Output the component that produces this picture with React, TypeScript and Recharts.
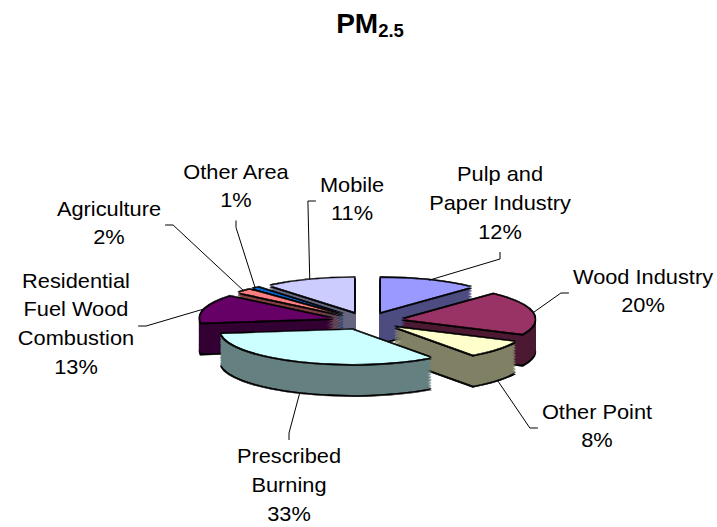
import React from 'react';
import { PieChart, Pie, Cell } from 'recharts';

const categories = [
  'Pulp and Paper Industry',
  'Wood Industry',
  'Other Point',
  'Prescribed Burning',
  'Residential Fuel Wood Combustion',
  'Agriculture',
  'Other Area',
  'Mobile',
];
const shares = [12, 20, 8, 33, 13, 2, 1, 11];
const labelLines = [
  ['Pulp and', 'Paper Industry'],
  ['Wood Industry'],
  ['Other Point'],
  ['Prescribed', 'Burning'],
  ['Residential', 'Fuel Wood', 'Combustion'],
  ['Agriculture'],
  ['Other Area'],
  ['Mobile'],
];

// excel 2003 palette, sides at half brightness
const topColors = ['#9999FF', '#993366', '#FFFFCC', '#CCFFFF', '#660066', '#FF8080', '#0066CC', '#CCCCFF'];
const sideColors = ['#4D4D80', '#4D1A33', '#808066', '#668080', '#330033', '#804040', '#003366', '#666680'];

// where excel left the label blocks, offset from pie centre (screen px)
const labelSpots = [
  [133, -116], [276, -28], [230, 107], [-78, 166],
  [-291, 5], [-258, -96], [-131, -133], [-15, -120],
];

const W = 717;
const H = 527;
const TILT = 0.26; // vertical squash of the pie
const CX = 367;
const CY_S = 321;
const CY = CY_S / TILT;
const R = 133;
const EXPLODE = 36;
const DEPTH_S = 31;
const DEPTH = DEPTH_S / TILT;
const LAYERS = 20;
const FONT = '"Liberation Sans", Arial, sans-serif';
const FS = 20;
const LH = 29;
const SX = 1.09;

const data = categories.map((name, i) => ({ name, value: shares[i] }));
const total = shares.reduce((a, b) => a + b, 0);

// mid angle clockwise from 12 o'clock -> explode direction and back-to-front order
const dirs = shares.map((v, i) => {
  const before = shares.slice(0, i).reduce((a, b) => a + b, 0);
  const m = ((before + v / 2) / total) * 2 * Math.PI;
  return [Math.sin(m), -Math.cos(m)];
});
const order = shares.map((_, i) => i).sort((a, b) => dirs[a][1] - dirs[b][1]);

let ctx: CanvasRenderingContext2D | null = null;
const textWidth = (s: string) => {
  if (!ctx) ctx = document.createElement('canvas').getContext('2d');
  if (!ctx) return s.length * FS * 0.5 * SX;
  ctx.font = `${FS}px "Liberation Sans"`;
  return ctx.measureText(s).width * SX;
};

// label pie sits unsquashed on an overlay; y offsets get the tilt applied here
const renderLabel = (props: any) => {
  const { index, midAngle } = props;
  const a = (-midAngle * Math.PI) / 180;
  const dx = Math.cos(a);
  const dy = Math.sin(a);
  const sx = CX + (EXPLODE + R) * dx;
  let sy = CY_S + (EXPLODE + R) * dy * TILT;
  if (dy > 0.5) sy += DEPTH_S;

  const lines = [...labelLines[index], `${Math.round((shares[index] / total) * 100)}%`];
  const [ox, oy] = labelSpots[index];
  const tx = CX + ox;
  const ty = CY_S + oy;
  const half = Math.max(...lines.map(textWidth)) / 2;
  const firstBase = ty + 5 - ((lines.length - 1) * LH) / 2;
  const lastBase = firstBase + (lines.length - 1) * LH;

  let end: number[];
  let tick: number[];
  if (sx >= tx - half - 6 && sx <= tx + half + 6) {
    if (sy > ty) {
      end = [tx, lastBase + 13];
      tick = [tx, lastBase + 20];
    } else {
      end = [tx, firstBase - 23];
      tick = [tx, firstBase - 30];
    }
  } else if (sx < tx) {
    end = [tx - half - 4, ty];
    tick = [end[0] - 8, ty];
  } else {
    end = [tx + half + 4, ty];
    tick = [end[0] + 8, ty];
  }

  return (
    <g key={`lbl-${index}`}>
      <polyline
        points={`${sx},${sy} ${tick[0]},${tick[1]} ${end[0]},${end[1]}`}
        fill="none"
        stroke="#000"
        strokeWidth={1}
      />
      <text
        transform={`translate(${tx} ${firstBase}) scale(${SX} 1)`}
        textAnchor="middle"
        fontSize={FS}
        fontFamily={FONT}
        fill="#000"
      >
        {lines.map((l, k) => (
          <tspan key={k} x={0} dy={k === 0 ? 0 : LH}>{l}</tspan>
        ))}
      </text>
    </g>
  );
};

const slicePie = (i: number, key: string, cy: number, fill: string, stroke: string, sw: number) => (
  <Pie
    key={key}
    data={data}
    dataKey="value"
    cx={CX + EXPLODE * dirs[i][0]}
    cy={cy}
    outerRadius={R}
    startAngle={90}
    endAngle={-270}
    isAnimationActive={false}
  >
    {data.map((d, j) => (
      <Cell
        key={d.name}
        fill={j === i ? fill : 'none'}
        stroke={j === i ? stroke : 'none'}
        strokeWidth={sw}
      />
    ))}
  </Pie>
);

const App: React.FC = () => {
  // each slice: black bottom rim, side layers, black rims round the top, top face
  const pies = order.flatMap((i) => {
    const cy = CY + EXPLODE * dirs[i][1];
    const px = 1 / TILT; // one screen px in squashed units
    const out = [slicePie(i, `b${i}`, cy + DEPTH + 1.5 * px, '#000', '#000', 1.5)];
    for (let k = LAYERS; k >= 1; k--) {
      out.push(slicePie(i, `s${i}-${k}`, cy + (k * DEPTH) / LAYERS, sideColors[i], k === LAYERS ? '#000' : sideColors[i], 1.2));
    }
    out.push(slicePie(i, `u${i}`, cy - 1.2 * px, '#000', '#000', 1.5));
    out.push(slicePie(i, `d${i}`, cy + 1.5 * px, '#000', '#000', 1.5));
    out.push(slicePie(i, `t${i}`, cy, topColors[i], '#000', 1.5));
    return out;
  });

  return (
    <div style={{ position: 'absolute', left: 0, top: 0, width: W, height: H, overflow: 'hidden', background: '#fff' }}>
      <svg width={W} height={60} style={{ position: 'absolute', left: 0, top: 0 }}>
        <text x={370} y={33} textAnchor="middle" fontFamily={FONT} fontWeight="bold" fill="#000">
          <tspan fontSize={28}>PM</tspan>
          <tspan fontSize={18.5} dy={4}>2.5</tspan>
        </text>
      </svg>
      <div
        style={{
          position: 'absolute',
          left: 0,
          top: 0,
          width: W,
          height: H / TILT,
          transform: `scaleY(${TILT})`,
          transformOrigin: '0 0',
        }}
      >
        <PieChart width={W} height={H / TILT} margin={{ top: 0, right: 0, bottom: 0, left: 0 }}>
          {pies}
        </PieChart>
      </div>
      <div style={{ position: 'absolute', left: 0, top: 0 }}>
        <PieChart width={W} height={H} margin={{ top: 0, right: 0, bottom: 0, left: 0 }}>
          <Pie
            data={data}
            dataKey="value"
            cx={CX}
            cy={CY_S}
            outerRadius={R}
            startAngle={90}
            endAngle={-270}
            label={renderLabel}
            labelLine={false}
            isAnimationActive={false}
          >
            {data.map((d) => (
              <Cell key={d.name} fill="none" stroke="none" />
            ))}
          </Pie>
        </PieChart>
      </div>
    </div>
  );
};

export default App;
